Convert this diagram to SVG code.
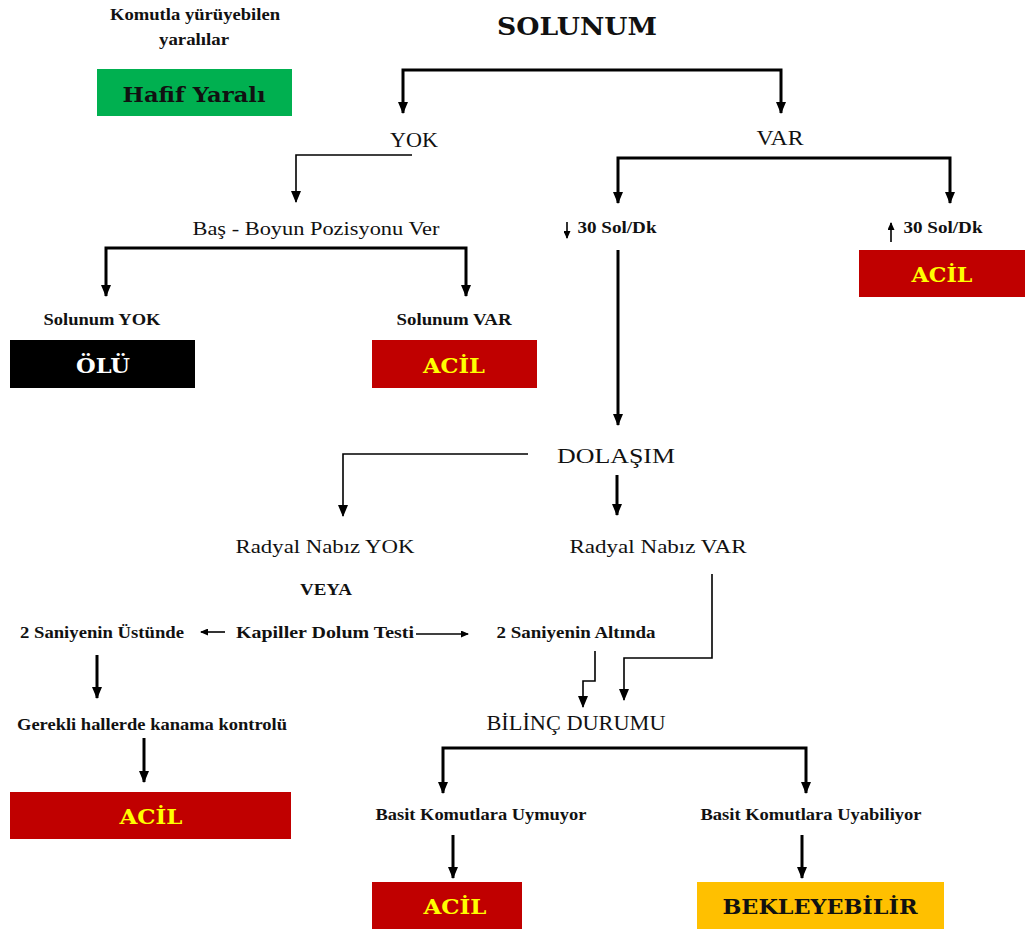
<svg xmlns="http://www.w3.org/2000/svg" width="1025" height="932" viewBox="0 0 1025 932">
<style>
.t{font-family:"Liberation Serif","Times New Roman",serif;fill:#111;text-anchor:middle}
.b{font-weight:bold}
.box{font-family:"DejaVu Serif","Liberation Serif",serif;font-weight:bold;text-anchor:middle;font-size:21px}
.thick{fill:none;stroke:#000;stroke-width:3}
.thin{fill:none;stroke:#000;stroke-width:1.6}
</style>
<defs>
<marker id="ah" markerUnits="userSpaceOnUse" markerWidth="12" markerHeight="10" viewBox="0 0 12 10" refX="11" refY="5" orient="auto-start-reverse">
<path d="M0,0 L12,5 L0,10 Z" fill="#000"/>
</marker>
<marker id="sm" markerUnits="userSpaceOnUse" markerWidth="8" markerHeight="7" viewBox="0 0 8 7" refX="7" refY="3.5" orient="auto">
<path d="M0,0 L8,3.5 L0,7 Z" fill="#000"/>
</marker>
</defs>
<rect width="1025" height="932" fill="#fff"/>

<g id="connectors">
<path class="thick" d="M403,113 V70 H781 V113" marker-start="url(#ah)" marker-end="url(#ah)"/>
<path class="thin" d="M412,155 H296 V202" marker-end="url(#ah)"/>
<path class="thick" d="M106,296 V248 H466 V296" marker-start="url(#ah)" marker-end="url(#ah)"/>
<path class="thick" d="M618,203 V158 H950 V203" marker-start="url(#ah)" marker-end="url(#ah)"/>
<path class="thick" d="M618,250 V425" marker-end="url(#ah)"/>
<path class="thin" d="M528,454 H343 V516" marker-end="url(#ah)"/>
<path class="thick" d="M617,475 V515" marker-end="url(#ah)"/>
<path class="thin" d="M712,574 V658 H624 V700" marker-end="url(#ah)"/>
<path class="thin" d="M595,651 V681 H583 V707" marker-end="url(#ah)"/>
<path class="thin" d="M416,634 H468" marker-end="url(#sm)"/>
<path class="thin" d="M225,632 H201" marker-end="url(#sm)"/>
<path class="thick" d="M97,655 V698" marker-end="url(#ah)"/>
<path class="thick" d="M144,738 V782" marker-end="url(#ah)"/>
<path class="thick" d="M443,793 V748 H806 V793" marker-start="url(#ah)" marker-end="url(#ah)"/>
<path class="thick" d="M453,835 V878" marker-end="url(#ah)"/>
<path class="thick" d="M802,835 V878" marker-end="url(#ah)"/>
<path class="thin" d="M567,222 V238" stroke-width="2" marker-end="url(#sm)"/>
<path class="thin" d="M891,242 V223" stroke-width="2" marker-end="url(#sm)"/>
</g>

<g id="note-walking">
<text class="t b" x="195" y="20" font-size="17" textLength="170" lengthAdjust="spacingAndGlyphs">Komutla yürüyebilen</text>
<text class="t b" x="194" y="45" font-size="17" textLength="70" lengthAdjust="spacingAndGlyphs">yaralılar</text>
</g>
<g id="hafif">
<rect x="97" y="69" width="195" height="47" fill="#00B050"/>
<text class="box" x="194" y="102" fill="#111" textLength="143" lengthAdjust="spacingAndGlyphs">Hafif Yaralı</text>
</g>
<g id="solunum">
<text x="577" y="35" font-family="DejaVu Serif, serif" font-weight="bold" font-size="25" text-anchor="middle" fill="#111" textLength="160" lengthAdjust="spacingAndGlyphs">SOLUNUM</text>
</g>
<g id="yok"><text class="t" x="414" y="147" font-size="21" textLength="48" lengthAdjust="spacingAndGlyphs">YOK</text></g>
<g id="var"><text class="t" x="780" y="145" font-size="21" textLength="47" lengthAdjust="spacingAndGlyphs">VAR</text></g>
<g id="bas-boyun"><text class="t" x="316" y="235" font-size="19" textLength="247" lengthAdjust="spacingAndGlyphs">Baş - Boyun Pozisyonu Ver</text></g>
<g id="solunum-yok"><text class="t b" x="102" y="325" font-size="16" textLength="117" lengthAdjust="spacingAndGlyphs">Solunum YOK</text></g>
<g id="solunum-var"><text class="t b" x="454" y="325" font-size="16" textLength="115" lengthAdjust="spacingAndGlyphs">Solunum VAR</text></g>
<g id="olu">
<rect x="10" y="340" width="185" height="48" fill="#000"/>
<text class="box" x="103" y="373" fill="#fff" textLength="54" lengthAdjust="spacingAndGlyphs">ÖLÜ</text>
</g>
<g id="acil1">
<rect x="372" y="340" width="165" height="48" fill="#C00000"/>
<text class="box" x="454" y="373" fill="#FFFF00" textLength="62" lengthAdjust="spacingAndGlyphs">ACİL</text>
</g>
<g id="low30"><text class="t b" x="617" y="233" font-size="16" textLength="79" lengthAdjust="spacingAndGlyphs">30 Sol/Dk</text></g>
<g id="high30"><text class="t b" x="943" y="233" font-size="16" textLength="79" lengthAdjust="spacingAndGlyphs">30 Sol/Dk</text></g>
<g id="acil2">
<rect x="859" y="250" width="166" height="47" fill="#C00000"/>
<text class="box" x="942" y="282" fill="#FFFF00" textLength="61" lengthAdjust="spacingAndGlyphs">ACİL</text>
</g>
<g id="dolasim"><text class="t" x="616" y="463" font-size="22" textLength="118" lengthAdjust="spacingAndGlyphs">DOLAŞIM</text></g>
<g id="radyal-yok"><text class="t" x="325" y="553" font-size="19" textLength="179" lengthAdjust="spacingAndGlyphs">Radyal Nabız YOK</text></g>
<g id="radyal-var"><text class="t" x="658" y="553" font-size="19" textLength="177" lengthAdjust="spacingAndGlyphs">Radyal Nabız VAR</text></g>
<g id="veya"><text class="t b" x="326" y="595" font-size="16" textLength="52" lengthAdjust="spacingAndGlyphs">VEYA</text></g>
<g id="ustunde"><text class="t b" x="102" y="638" font-size="16" textLength="164" lengthAdjust="spacingAndGlyphs">2 Saniyenin Üstünde</text></g>
<g id="kapiller"><text class="t b" x="325" y="638" font-size="16" textLength="178" lengthAdjust="spacingAndGlyphs">Kapiller Dolum Testi</text></g>
<g id="altinda"><text class="t b" x="576" y="638" font-size="16" textLength="159" lengthAdjust="spacingAndGlyphs">2 Saniyenin Altında</text></g>
<g id="kanama"><text class="t b" x="152" y="730" font-size="16" textLength="270" lengthAdjust="spacingAndGlyphs">Gerekli hallerde kanama kontrolü</text></g>
<g id="acil3">
<rect x="10" y="792" width="281" height="47" fill="#C00000"/>
<text class="box" x="151" y="824" fill="#FFFF00" textLength="63" lengthAdjust="spacingAndGlyphs">ACİL</text>
</g>
<g id="bilinc"><text class="t" x="576" y="730" font-size="21" textLength="179" lengthAdjust="spacingAndGlyphs">BİLİNÇ DURUMU</text></g>
<g id="uymuyor"><text class="t b" x="481" y="820" font-size="16" textLength="211" lengthAdjust="spacingAndGlyphs">Basit Komutlara Uymuyor</text></g>
<g id="uyabiliyor"><text class="t b" x="811" y="820" font-size="16" textLength="221" lengthAdjust="spacingAndGlyphs">Basit Komutlara Uyabiliyor</text></g>
<g id="acil4">
<rect x="372" y="882" width="150" height="47" fill="#C00000"/>
<text class="box" x="455" y="914" fill="#FFFF00" textLength="63" lengthAdjust="spacingAndGlyphs">ACİL</text>
</g>
<g id="bekle">
<rect x="697" y="882" width="247" height="47" fill="#FFC000"/>
<text class="box" x="820" y="914" fill="#111" textLength="195" lengthAdjust="spacingAndGlyphs">BEKLEYEBİLİR</text>
</g>
</svg>
